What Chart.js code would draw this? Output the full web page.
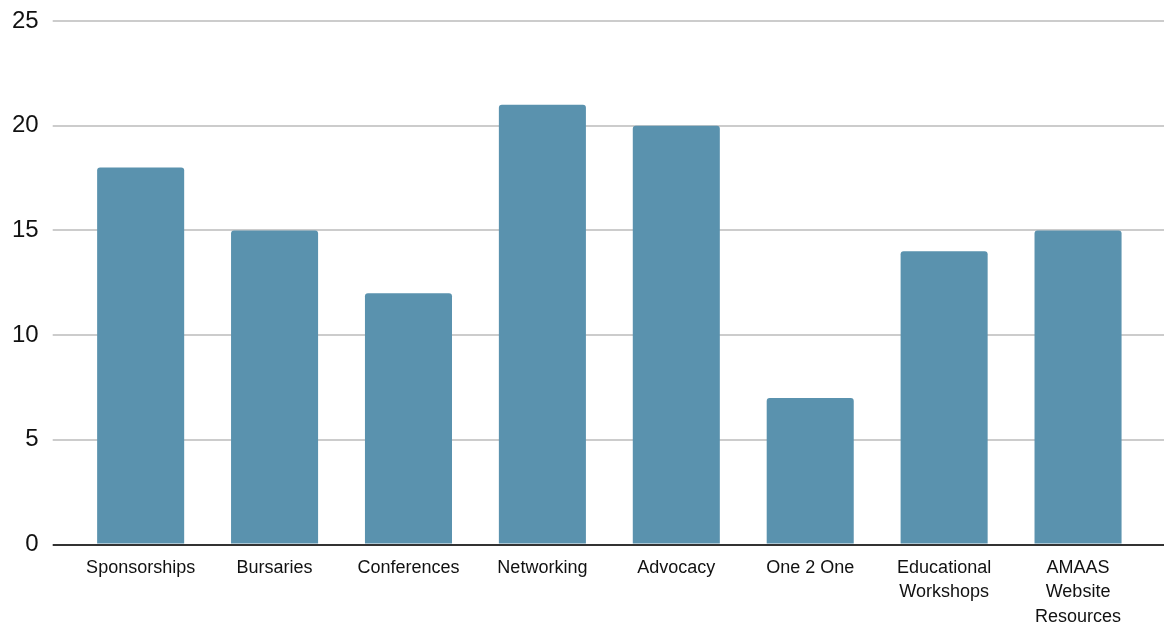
<!DOCTYPE html>
<html>
<head>
<meta charset="utf-8">
<title>Services</title>
<script src="https://cdn.jsdelivr.net/npm/chart.js@4.4.1/dist/chart.umd.min.js"></script>
<style>
    html, body { margin: 0; padding: 0; background: #ffffff; }
    #wrap { width: 1164px; height: 626px; }
</style>
</head>
<body>
<div id="wrap"><canvas id="chart"></canvas></div>
<script>
// Categorías (las de varias líneas van como arrays)
const categories = [
    'Sponsorships',
    'Bursaries',
    'Conferences',
    'Networking',
    'Advocacy',
    'One 2 One',
    ['Educational', 'Workshops'],
    ['AMAAS', 'Website', 'Resources']
];

// Valores de cada barra
const counts = [18, 15, 12, 21, 20, 7, 14, 15];

// Eje Y
const yMin = 0;
const yMax = 25;
const yStep = 5;

const BAR_COLOR = '#5a92ae';
const GRID_COLOR = '#cccccc';
const BASE_COLOR = '#333333';
const TEXT_COLOR = '#111111';
const FONT = '"Liberation Sans", Arial, sans-serif';

// Color de la línea: la del cero más oscura
function gridColor(ctx) {
    return ctx.tick && ctx.tick.value === 0 ? BASE_COLOR : GRID_COLOR;
}

const ctx = document.getElementById('chart').getContext('2d');
new Chart(ctx, {
    type: 'bar',
    data: {
        labels: categories,
        datasets: [{
            data: counts,
            backgroundColor: BAR_COLOR,
            borderRadius: 3,
            borderSkipped: 'bottom',
            barPercentage: 0.65,
            categoryPercentage: 1
        }]
    },
    options: {
        responsive: true,
        maintainAspectRatio: false,
        animation: false,
        layout: { padding: { top: 21, left: -2, right: 0, bottom: -14 } },
        plugins: {
            legend: { display: false },
            tooltip: { enabled: false }
        },
        scales: {
            x: {
                grid: { display: false, drawTicks: false },
                border: { display: false },
                ticks: {
                    color: TEXT_COLOR,
                    padding: 11,
                    maxRotation: 0,
                    autoSkip: false,
                    font: { family: FONT, size: 18, lineHeight: 1.36 }
                }
            },
            y: {
                min: yMin,
                max: yMax,
                position: 'left',
                border: { display: false },
                grid: {
                    color: gridColor,
                    lineWidth: 2,
                    tickLength: 21
                },
                ticks: {
                    stepSize: yStep,
                    color: TEXT_COLOR,
                    padding: 14,
                    font: { family: FONT, size: 24, lineHeight: 0.5 }
                }
            },
            // eje derecho sin etiquetas: sólo alarga las líneas hasta el borde
            y2: {
                min: yMin,
                max: yMax,
                position: 'right',
                border: { display: false },
                grid: {
                    color: gridColor,
                    lineWidth: 2,
                    tickLength: 19,
                    drawOnChartArea: false
                },
                ticks: { stepSize: yStep, display: false }
            }
        }
    }
});
</script>
</body>
</html>
